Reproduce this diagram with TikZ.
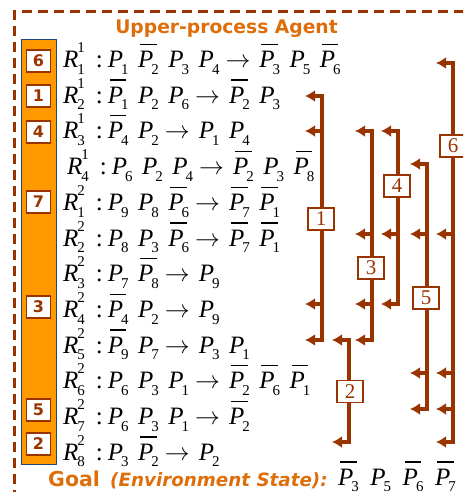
\documentclass[tikz,border=0pt]{standalone}
\usepackage{fontspec}
\usetikzlibrary{arrows.meta}
\setmainfont{Liberation Serif}
\newfontfamily\dvs{DejaVu Sans}
\definecolor{brn}{RGB}{153,51,0}
\definecolor{orng}{RGB}{255,153,0}
\definecolor{ttl}{RGB}{222,110,10}
\definecolor{bbord}{RGB}{31,73,125}
\newcommand\subd[1]{\raisebox{-6.7pt}{\fontsize{15}{15}\selectfont #1}}
\newcommand\Pp[1]{\textit{P}\kern-2pt\subd{#1}}
\newcommand\Pn[1]{\makebox[0pt][l]{\hspace*{2pt}\rule[22.5pt]{16.5pt}{1.3pt}}\Pp{#1}}
\newcommand\Rr[2]{\textit{R}\kern-1pt\makebox[0pt][l]{\raisebox{15pt}{\fontsize{15}{15}\selectfont #2}}\subd{#1}\hspace{11pt}:\hspace{5pt}}
\newcommand\ar{\hspace{6pt}$\rightarrow$\hspace{9pt}}
\newcommand\gp{\hspace{9.5pt}}
\newcommand\gq{\hspace{11.5pt}}
\begin{document}
\begin{tikzpicture}[x=1pt,y=-1pt,
  br/.style={draw=brn, line width=3.2pt, line join=miter},
  tip/.style={-{Latex[length=10pt,width=12pt]}},
  tips/.style={{Latex[length=10pt,width=12pt]}-{Latex[length=10pt,width=12pt]}},
  lbl/.style={draw=brn, line width=1.3pt, fill=white, text=brn, minimum width=26pt, minimum height=22pt, inner sep=0pt, font=\fontsize{21}{21}\selectfont},
  numbox/.style={draw=brn, line width=1.8pt, fill=white, text=brn, minimum width=24pt, minimum height=22pt, inner sep=0pt, font=\dvs\bfseries\fontsize{16}{16}\selectfont},
  row/.style={anchor=base west, inner sep=0pt, font=\fontsize{25}{30}\selectfont}]
\useasboundingbox (0,0) rectangle (463,492);
\clip (0,0) rectangle (463,492);
% frame
\draw[brn, line width=3pt, dash pattern=on 10pt off 6pt] (14,500) -- (14,12) -- (470,12);
% title
\node[anchor=base, inner sep=0pt, text=ttl, font=\dvs\bfseries\fontsize{18.7}{22}\selectfont] (title) at (226.5,33.5) {Upper-process Agent};
% orange bar
\node[fill=orng, draw=bbord, line width=1.2pt, minimum width=35pt, minimum height=425pt, inner sep=0pt, anchor=north west] (bar) at (21,39) {};
\node[numbox] (n6) at (38.5,61) {6};
\node[numbox] (n1) at (38.5,96) {1};
\node[numbox] (n4) at (38.5,132) {4};
\node[numbox] (n7) at (38.5,202) {7};
\node[numbox] (n3) at (38.5,307) {3};
\node[numbox] (n5) at (38.5,410) {5};
\node[numbox] (n2) at (38.5,444) {2};
% rules
\node[row] (r1) at (63,67.5) {\Rr11\Pp1\gp\Pn2\gp\Pp3\gp\Pp4\ar\Pn3\gp\Pp5\gp\Pn6};
\node[row] (r2) at (63,103.2) {\Rr21\Pn1\gp\Pp2\gp\Pp6\ar\Pn2\gp\Pp3};
\node[row] (r3) at (63,138.9) {\Rr31\Pn4\gp\Pp2\ar\Pp1\gp\Pp4};
\node[row] (r4) at (67,174.6) {\Rr41\Pp6\gp\Pp2\gp\Pp4\ar\Pn2\gp\Pp3\gp\Pn8};
\node[row] (r5) at (63,210.3) {\Rr12\Pp9\gp\Pp8\gp\Pn6\ar\Pn7\gp\Pn1};
\node[row] (r6) at (63,246) {\Rr22\Pp8\gp\Pp3\gp\Pn6\ar\Pn7\gp\Pn1};
\node[row] (r7) at (63,281.7) {\Rr32\Pp7\gp\Pn8\ar\Pp9};
\node[row] (r8) at (63,317.4) {\Rr42\Pn4\gp\Pp2\ar\Pp9};
\node[row] (r9) at (63,353.1) {\Rr52\Pn9\gp\Pp7\ar\Pp3\gp\Pp1};
\node[row] (r10) at (63,388.8) {\Rr62\Pp6\gp\Pp3\gp\Pp1\ar\Pn2\gp\Pn6\gp\Pn1};
\node[row] (r11) at (63,424.5) {\Rr72\Pp6\gp\Pp3\gp\Pp1\ar\Pn2};
\node[row] (r12) at (63,460.2) {\Rr82\Pp3\gp\Pn2\ar\Pp2};
% goal
\node[anchor=base west, inner sep=0pt, text=ttl, font=\dvs\bfseries\fontsize{20.5}{24}\selectfont] (goal) at (48,486.5) {Goal};
\node[anchor=base west, inner sep=0pt, text=ttl, font=\dvs\bfseries\itshape\fontsize{18.3}{22}\selectfont] (env) at (110,486.5) {(Environment State):};
\node[row] (gs) at (338,485) {\Pn3\gq\Pp5\gq\Pn6\gq\Pn7};
% arrow rows
\def\ys{{0,63,96,131,164,200,234,270,304,340,373,409,442}}
\foreach \b/\x/\rs in {1/322/{2,3,8,9},2/349/{9,12},3/372/{3,6,8,9},4/398/{3,6,8},5/427/{4,6,10,11},6/453/{1,6,10,11,12}}{
  \foreach \r in \rs {
    \pgfmathsetmacro\yy{\ys[\r]}
    \coordinate (b\b-\r) at (\x,\yy);
    \coordinate (t\b-\r) at (\x-17,\yy);
  }
}
% bracket 1
\draw[br,tips] (t1-2) -- (b1-2) -- (b1-9) -- (t1-9);
\draw[br,tip] (b1-3) -- (t1-3);
\draw[br,tip] (b1-8) -- (t1-8);
% bracket 2
\draw[br,tips] (t2-9) -- (b2-9) -- (b2-12) -- (t2-12);
% bracket 3
\draw[br,tips] (t3-3) -- (b3-3) -- (b3-9) -- (t3-9);
\draw[br,tip] (b3-6) -- (t3-6);
\draw[br,tip] (b3-8) -- (t3-8);
% bracket 4
\draw[br,tips] (t4-3) -- (b4-3) -- (b4-8) -- (t4-8);
\draw[br,tip] (b4-6) -- (t4-6);
% bracket 5
\draw[br,tips] (t5-4) -- (b5-4) -- (b5-11) -- (t5-11);
\draw[br,tip] (b5-6) -- (t5-6);
\draw[br,tip] (b5-10) -- (t5-10);
% bracket 6
\draw[br,tips] (t6-1) -- (b6-1) -- (b6-12) -- (t6-12);
\draw[br,tip] (b6-6) -- (t6-6);
\draw[br,tip] (b6-10) -- (t6-10);
\draw[br,tip] (b6-11) -- (t6-11);
% bracket labels
\node[lbl] (L1) at (321,219) {1};
\node[lbl] (L2) at (350,391.5) {2};
\node[lbl] (L3) at (371,268) {3};
\node[lbl] (L4) at (397,186) {4};
\node[lbl] (L5) at (426,298) {5};
\node[lbl] (L6) at (453,146) {6};
\end{tikzpicture}
\end{document}
